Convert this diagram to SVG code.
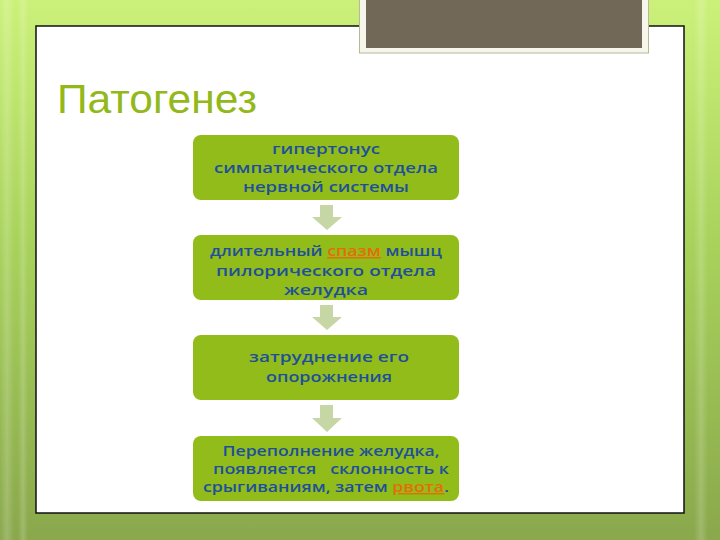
<svg xmlns="http://www.w3.org/2000/svg" width="720" height="540" viewBox="0 0 720 540">
<defs>
<linearGradient id="bg" x1="0" y1="0" x2="0" y2="1">
<stop offset="0" stop-color="#ccf17a"/>
<stop offset="0.45" stop-color="#a8d25c"/>
<stop offset="1" stop-color="#8aa84c"/>
</linearGradient>
<linearGradient id="stripe" x1="0" y1="0" x2="1" y2="0">
<stop offset="0" stop-color="#ffffff" stop-opacity="0"/>
<stop offset="0.5" stop-color="#ffffff" stop-opacity="0.18"/>
<stop offset="1" stop-color="#ffffff" stop-opacity="0"/>
</linearGradient>
</defs>
<style>
.box{fill:#92bc1a;}
.txt{font-family:"Open Sans","DejaVu Sans",sans-serif;font-weight:600;font-size:15px;fill:#1d4f9c;text-anchor:middle;white-space:pre;}
.sm{font-size:14px;}
.lnk{fill:#e46c0a;text-decoration:underline;}
.arr{fill:#c6d6a4;}
</style>
<rect x="0" y="0" width="720" height="540" fill="url(#bg)"/>
<rect x="0" y="0" width="14" height="540" fill="url(#stripe)"/>
<rect x="18" y="0" width="10" height="540" fill="url(#stripe)"/>
<rect x="694" y="0" width="14" height="540" fill="url(#stripe)"/>
<rect x="36" y="26" width="648" height="487" fill="#ffffff" stroke="#111111" stroke-width="1.5"/>
<g id="frame">
<rect x="359.5" y="-2" width="289" height="55" fill="#f6f6ec" stroke="#b8b898" stroke-width="1"/>
<rect x="366" y="-2" width="276" height="50" fill="#726857"/>
</g>
<text x="57" y="113" font-family="'Liberation Sans',sans-serif" font-size="40" fill="#93b81a" textLength="200" lengthAdjust="spacingAndGlyphs">Патогенез</text>
<g id="connectors">
<path class="arr" d="M320 205 H333 V217 H342 L327 230 L312 217 H320 Z"/>
<path class="arr" d="M320 305 H333 V317 H342 L327 330 L312 317 H320 Z"/>
<path class="arr" d="M320 405 H333 V418 H342 L327 432 L312 418 H320 Z"/>
</g>
<g id="n1">
<rect class="box" x="193" y="135" width="266" height="65" rx="8"/>
<text class="txt" x="326" y="154" textLength="108" lengthAdjust="spacingAndGlyphs">гипертонус</text>
<text class="txt" x="326" y="173" textLength="224" lengthAdjust="spacingAndGlyphs">симпатического отдела</text>
<text class="txt" x="326" y="192" textLength="166" lengthAdjust="spacingAndGlyphs">нервной системы</text>
</g>
<g id="n2">
<rect class="box" x="193" y="235" width="266" height="65" rx="8"/>
<text class="txt" x="326" y="256" textLength="232" lengthAdjust="spacingAndGlyphs">длительный <tspan class="lnk">спазм</tspan> мышц</text>
<text class="txt" x="326" y="276" textLength="220" lengthAdjust="spacingAndGlyphs">пилорического отдела</text>
<text class="txt" x="326" y="295" textLength="84" lengthAdjust="spacingAndGlyphs">желудка</text>
</g>
<g id="n3">
<rect class="box" x="193" y="335" width="266" height="65" rx="8"/>
<text class="txt" x="329" y="362" textLength="160" lengthAdjust="spacingAndGlyphs">затруднение его</text>
<text class="txt" x="329" y="382" textLength="126" lengthAdjust="spacingAndGlyphs">опорожнения</text>
</g>
<g id="n4">
<rect class="box" x="193" y="436" width="266" height="65" rx="8"/>
<text class="txt sm" x="331" y="456" textLength="217" lengthAdjust="spacingAndGlyphs">Переполнение желудка,</text>
<text class="txt sm" x="331" y="474" textLength="236" lengthAdjust="spacingAndGlyphs">появляется   склонность к</text>
<text class="txt sm" x="326" y="492" textLength="246" lengthAdjust="spacingAndGlyphs">срыгиваниям, затем <tspan class="lnk">рвота</tspan>.</text>
</g>
</svg>
